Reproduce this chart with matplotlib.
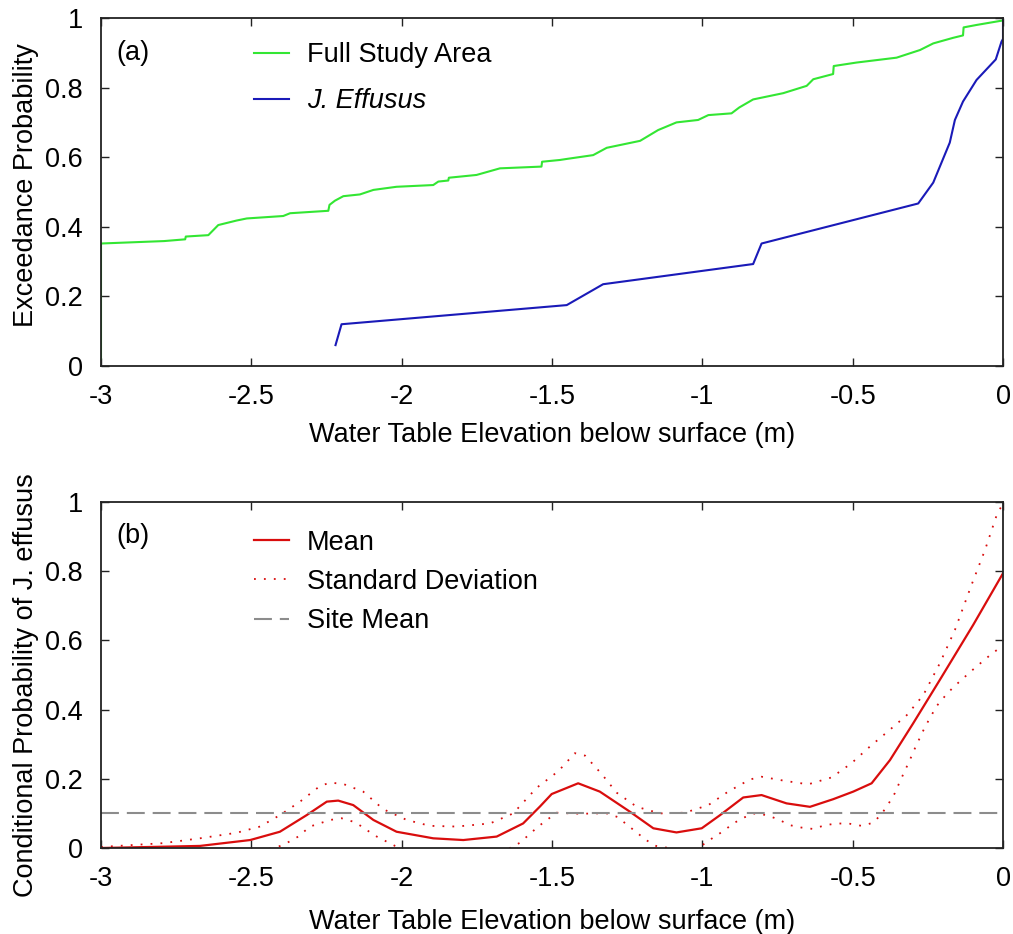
import matplotlib
matplotlib.use("Agg")
import matplotlib.pyplot as plt

plt.rcParams['font.family'] = ['Liberation Sans', 'DejaVu Sans']

# ---------------- data ----------------
# (a) exceedance probability
full_x = [-3, -3, -2.79, -2.72, -2.718, -2.643, -2.61, -2.549, -2.515, -2.394, -2.371,
          -2.244, -2.24, -2.222, -2.194, -2.139, -2.094, -2.017, -1.895, -1.878, -1.845,
          -1.843, -1.751, -1.673, -1.535, -1.533, -1.474, -1.451, -1.363, -1.318, -1.207,
          -1.147, -1.086, -1.014, -0.98, -0.903, -0.877, -0.831, -0.731, -0.653, -0.631,
          -0.565, -0.563, -0.487, -0.354, -0.276, -0.232, -0.166, -0.133, -0.131, -0.088, 0.0]
full_y = [0.02, 0.352, 0.359, 0.364, 0.372, 0.376, 0.405, 0.418, 0.424, 0.431, 0.439,
          0.446, 0.463, 0.475, 0.488, 0.493, 0.506, 0.515, 0.520, 0.530, 0.533,
          0.541, 0.549, 0.568, 0.573, 0.587, 0.592, 0.595, 0.606, 0.627, 0.647,
          0.678, 0.700, 0.707, 0.721, 0.726, 0.743, 0.766, 0.784, 0.805, 0.824,
          0.839, 0.862, 0.872, 0.886, 0.908, 0.927, 0.943, 0.950, 0.973, 0.980, 0.993]

eff_x = [-2.22, -2.20, -1.451, -1.33, -0.831, -0.803, -0.282, -0.232, -0.177, -0.160,
         -0.133, -0.088, -0.024, -0.005, 0.0, 0.0]
eff_y = [0.060, 0.120, 0.175, 0.235, 0.293, 0.352, 0.467, 0.527, 0.642, 0.707,
         0.760, 0.822, 0.881, 0.932, 0.94, 0.995]

# (b) conditional probability
mean_x = [-3, -2.671, -2.504, -2.405, -2.316, -2.249, -2.211, -2.161, -2.094, -2.017,
          -1.895, -1.795, -1.684, -1.596, -1.540, -1.501, -1.413, -1.341, -1.241, -1.163,
          -1.086, -1.002, -0.941, -0.864, -0.803, -0.720, -0.642, -0.565, -0.498, -0.437,
          -0.376, -0.299, -0.210, -0.099, 0.0]
mean_y = [0.0, 0.006, 0.023, 0.047, 0.095, 0.134, 0.137, 0.124, 0.081, 0.047,
          0.028, 0.023, 0.033, 0.071, 0.120, 0.156, 0.187, 0.163, 0.105, 0.057,
          0.045, 0.057, 0.095, 0.146, 0.153, 0.129, 0.119, 0.141, 0.163, 0.187,
          0.254, 0.360, 0.486, 0.645, 0.794]

sd_up_x = [-3, -2.793, -2.671, -2.549, -2.471, -2.405, -2.338, -2.272, -2.238, -2.194,
           -2.128, -2.061, -1.983, -1.906, -1.817, -1.706, -1.629, -1.551, -1.479, -1.424,
           -1.390, -1.335, -1.285, -1.218, -1.141, -1.058, -0.980, -0.914, -0.842, -0.803,
           -0.725, -0.648, -0.570, -0.504, -0.443, -0.380, -0.320, -0.265, -0.210, -0.160,
           -0.104, -0.060, -0.021, 0.0]
sd_up_y = [0.003, 0.014, 0.028, 0.044, 0.062, 0.095, 0.134, 0.179, 0.189, 0.185,
           0.163, 0.112, 0.081, 0.064, 0.062, 0.071, 0.100, 0.174, 0.222, 0.274,
           0.267, 0.214, 0.160, 0.119, 0.100, 0.102, 0.124, 0.163, 0.198, 0.206,
           0.194, 0.184, 0.204, 0.245, 0.293, 0.339, 0.384, 0.442, 0.534, 0.630,
           0.762, 0.861, 0.962, 0.996]

sd_lo_x = [-3, -2.6, -2.42, -2.383, -2.344, -2.305, -2.238, -2.200, -2.161, -2.128,
           -2.094, -2.022, -1.9, -1.75, -1.640, -1.607, -1.546, -1.485, -1.440, -1.401,
           -1.357, -1.318, -1.280, -1.252, -1.218, -1.191, -1.154, -1.04, -0.997, -0.964,
           -0.930, -0.897, -0.862, -0.825, -0.786, -0.748, -0.709, -0.670, -0.631, -0.592,
           -0.551, -0.509, -0.470, -0.432, -0.404, -0.380, -0.360, -0.343, -0.310, -0.293,
           -0.260, -0.221, -0.193, -0.166, -0.133, -0.102, -0.071, -0.038, 0.0]
sd_lo_y = [0.0, -0.02, 0.0, 0.014, 0.033, 0.062, 0.081, 0.086, 0.076, 0.060,
           0.038, 0.006, -0.03, -0.03, 0.0, 0.015, 0.062, 0.102, 0.100, 0.099,
           0.100, 0.100, 0.089, 0.068, 0.045, 0.025, 0.006, -0.01, 0.010, 0.030,
           0.049, 0.071, 0.088, 0.100, 0.095, 0.083, 0.066, 0.059, 0.055, 0.066,
           0.071, 0.070, 0.064, 0.073, 0.098, 0.129, 0.158, 0.192, 0.254, 0.288,
           0.349, 0.410, 0.439, 0.464, 0.490, 0.514, 0.537, 0.561, 0.585]

site_mean = 0.1

xticks = [-3, -2.5, -2, -1.5, -1, -0.5, 0]
xticklabels = ['-3', '-2.5', '-2', '-1.5', '-1', '-0.5', '0']
yticks = [0, 0.2, 0.4, 0.6, 0.8, 1]
yticklabels = ['0', '0.2', '0.4', '0.6', '0.8', '1']

xlabel = 'Water Table Elevation below surface (m)'

# ---------------- figure ----------------
W, H = 1013, 934
fig = plt.figure(figsize=(W / 100, H / 100), dpi=100)

FS = 19.5
green = (0.2, 0.9, 0.2)
blue = (0.1, 0.1, 0.72)
red = (0.85, 0.05, 0.05)
gray = (0.55, 0.55, 0.55)


def make_axes(left, top, right, bottom):
    return fig.add_axes([left / W, 1 - bottom / H, (right - left) / W, (bottom - top) / H])


def style(ax):
    ax.set_xlim(-3, 0)
    ax.set_ylim(0, 1)
    ax.set_xticks(xticks)
    ax.set_xticklabels(xticklabels)
    ax.set_yticks(yticks)
    ax.set_yticklabels(yticklabels)
    ax.tick_params(direction='in', length=6, width=1.0, top=True, right=True,
                   labelsize=FS, pad=13, color='#222222')
    for s in ax.spines.values():
        s.set_linewidth(1.3)
        s.set_color('#222222')


ax1 = make_axes(101, 18, 1003, 366)
style(ax1)
ax1.plot(full_x, full_y, color=green, lw=1.5, label='Full Study Area')
ax1.plot(eff_x, eff_y, color=blue, lw=1.5, label='J. Effusus')
ax1.set_ylabel('Exceedance Probability', fontsize=FS)
ax1.yaxis.set_label_coords(-0.0687, 0.52)
ax1.set_xlabel(xlabel, fontsize=FS)
ax1.xaxis.set_label_coords(0.5, -0.162)
ax1.text(0.017, 0.9, '(a)', transform=ax1.transAxes, fontsize=FS, va='center', ha='left')
leg1 = ax1.legend(loc='upper left', bbox_to_anchor=(0.1696, 0.93), frameon=False,
                  fontsize=FS, handlelength=1.3, handletextpad=0.66, labelspacing=0.74,
                  borderpad=0, borderaxespad=0)
leg1.get_texts()[1].set_fontstyle('italic')

ax2 = make_axes(101, 502, 1003, 848)
style(ax2)
ax2.plot(mean_x, mean_y, color=red, lw=1.6, label='Mean')
ax2.plot(sd_up_x, sd_up_y, color=red, lw=1.3, linestyle=(0, (1, 4.5)), label='Standard Deviation')
ax2.plot(sd_lo_x, sd_lo_y, color=red, lw=1.3, linestyle=(0, (1, 4.5)))
ax2.axhline(site_mean, color=gray, lw=1.5, linestyle=(0, (8.6, 3.8)), label='Site Mean')
ax2.set_ylabel('Conditional Probability of J. effusus', fontsize=FS)
ax2.yaxis.set_label_coords(-0.0687, 0.47)
ax2.set_xlabel(xlabel, fontsize=FS)
ax2.xaxis.set_label_coords(0.5, -0.177)
ax2.text(0.017, 0.903, '(b)', transform=ax2.transAxes, fontsize=FS, va='center', ha='left')
ax2.legend(loc='upper left', bbox_to_anchor=(0.1696, 0.92), frameon=False,
           fontsize=FS, handlelength=1.3, handletextpad=0.66, labelspacing=0.49,
           borderpad=0, borderaxespad=0)

fig.savefig('out.png', dpi=100)
